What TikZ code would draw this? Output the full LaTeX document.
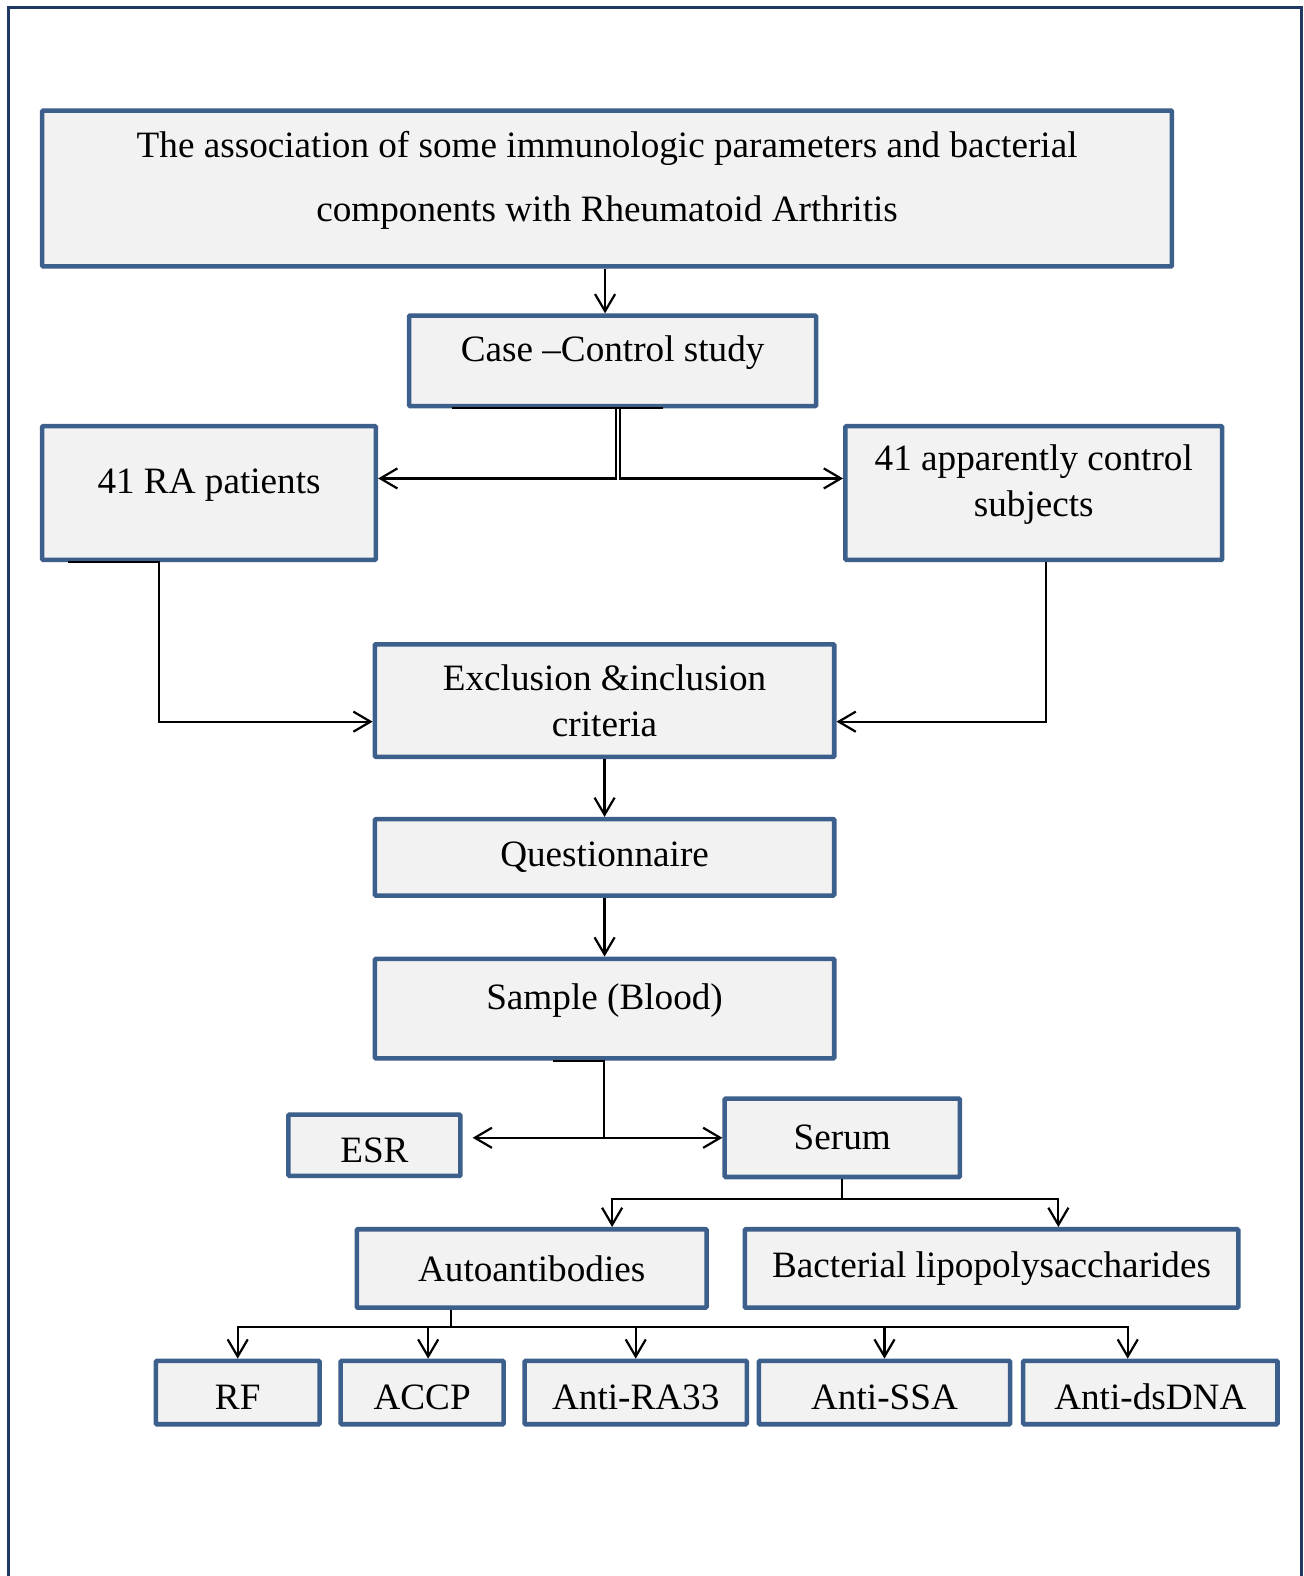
\documentclass[tikz,border=0pt]{standalone}
\usepackage{fontspec}
\setmainfont{Liberation Serif}
\usetikzlibrary{arrows.meta}

\definecolor{boxline}{HTML}{3C5F8C}
\definecolor{boxfill}{HTML}{F2F2F2}
\definecolor{frameline}{HTML}{1F3864}

\tikzset{
  box/.style={draw=boxline, fill=boxfill, line width=4.5pt, rounded corners=1pt,
    align=center, inner sep=0pt, font=\fontsize{37}{46}\selectfont},
  topbox/.style={box, text depth=24pt},
  lowbox/.style={box, text height=34pt, text depth=0pt},
  arr/.style={-{Straight Barb[length=17pt, width=20pt]}, line width=2.2pt},
}

\begin{document}
\begin{tikzpicture}[x=1pt, y=-1pt]
\useasboundingbox (0,0) rectangle (1297,1568);
\draw[frameline, line width=3pt] (8,7) rectangle (1295,1620);

% boxes
\node[topbox, minimum width=1124pt, minimum height=155pt] at (604,187.5) (title)
  {The association of some immunologic parameters and bacterial\\[18pt]components with Rheumatoid Arthritis};
\node[topbox, minimum width=405pt, minimum height=90pt] at (609.5,359) (case) {Case --Control study};
\node[topbox, minimum width=332pt, minimum height=133pt] at (208,490.5) (ra) {41 RA patients};
\node[topbox, minimum width=375pt, minimum height=133pt] at (1028.5,490.5) (ctrl) {41 apparently control\\subjects};
\node[box, minimum width=457pt, minimum height=112pt] at (601.5,697) (excl) {Exclusion \&inclusion\\criteria};
\node[box, minimum width=457pt, minimum height=76pt] at (601.5,853) (quest) {Questionnaire};
\node[topbox, minimum width=457pt, minimum height=99pt] at (601.5,1003.5) (sample) {Sample (Blood)};
\node[lowbox, minimum width=171pt, minimum height=61pt] at (372.5,1139.5) (esr) {ESR};
\node[box, minimum width=234pt, minimum height=78pt] at (838,1132) (serum) {Serum};
\node[box, minimum width=348pt, minimum height=78pt] at (529,1262) (auto) {Autoantibodies};
\node[box, minimum width=491pt, minimum height=78pt] at (986.5,1262) (lps) {Bacterial lipopolysaccharides};
\node[lowbox, minimum width=163pt, minimum height=63pt] at (236.5,1385.5) (rf) {RF};
\node[lowbox, minimum width=162pt, minimum height=63pt] at (420,1385.5) (accp) {ACCP};
\node[lowbox, minimum width=221pt, minimum height=63pt] at (632.5,1385.5) (ra33) {Anti-RA33};
\node[lowbox, minimum width=250pt, minimum height=63pt] at (880,1385.5) (ssa) {Anti-SSA};
\node[lowbox, minimum width=253pt, minimum height=63pt] at (1144.5,1385.5) (dsdna) {Anti-dsDNA};

% connectors
\draw[arr] ([xshift=-2pt]title.south) -- ([xshift=-7.5pt]case.north);
\draw[arr] ([xshift=50.5pt]case.south) -| (613,476) -- ([yshift=14.5pt]ra.east);
\draw[arr] ([xshift=-159.5pt]case.south) -| (617,476) -- ([yshift=14.5pt]ctrl.west);
\draw[arr] ([xshift=-140pt]ra.south) -| (158,718) -- ([yshift=-21pt]excl.west);
\draw[arr] ([xshift=12.5pt]ctrl.south) |- ([yshift=-21pt]excl.east);
\draw[arr] (excl.south) -- (quest.north);
\draw[arr] (quest.south) -- (sample.north);
\draw[arr] ([xshift=-51.5pt]sample.south) -| (601,1132) -- ([xshift=10pt, yshift=7.5pt]esr.east);
\draw[arr] ([xshift=-0.5pt]sample.south) |- (serum.west);
\draw[arr] (serum.south) |- (609,1193) -- ([xshift=80pt]auto.north);
\draw[arr] (serum.south) |- (1053,1193) -- ([xshift=66.5pt]lps.north);
\foreach \t/\dx in {rf/0, accp/6, ra33/0, ssa/0, dsdna/-22.5}
  \draw[arr] ([xshift=-80pt]auto.south) -- ++(0,17) -| ([xshift=\dx pt]\t.north);

\end{tikzpicture}
\end{document}
